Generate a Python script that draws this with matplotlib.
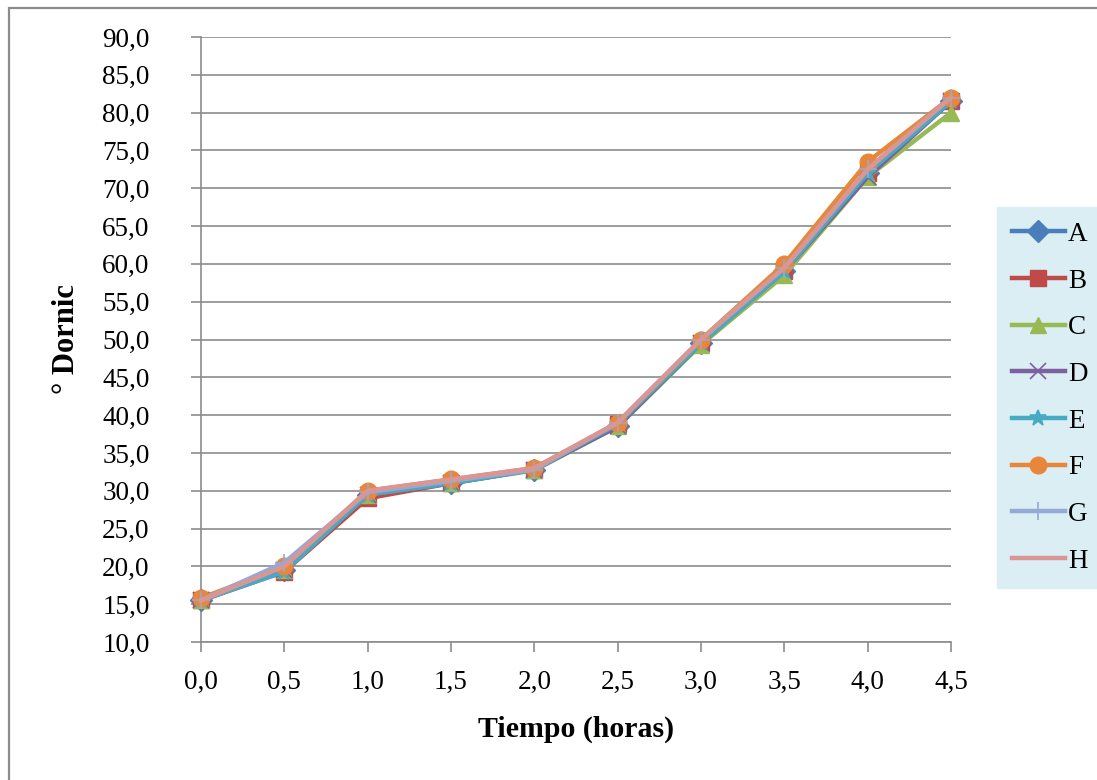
import matplotlib
matplotlib.use("Agg")
import matplotlib.pyplot as plt
from matplotlib.ticker import FuncFormatter, MultipleLocator
from matplotlib.patches import Rectangle

# Time in hours
tiempo = [0.0, 0.5, 1.0, 1.5, 2.0, 2.5, 3.0, 3.5, 4.0, 4.5]

# Acidity (°Dornic) per sample
serie_a = [15.5, 19.5, 29.5, 31.0, 32.8, 38.5, 49.5, 59.0, 72.0, 81.5]
serie_b = [15.5, 19.3, 29.0, 31.0, 32.8, 38.8, 49.5, 59.0, 72.0, 81.5]
serie_c = [15.5, 19.5, 29.5, 31.0, 32.7, 38.5, 49.3, 58.5, 71.5, 80.0]
serie_d = [15.5, 19.5, 29.5, 31.0, 32.8, 38.5, 49.5, 59.0, 71.5, 81.5]
serie_e = [15.5, 19.3, 29.5, 31.0, 32.8, 38.8, 49.5, 59.0, 72.0, 81.5]
serie_f = [15.8, 20.0, 30.0, 31.5, 33.0, 39.0, 50.0, 60.0, 73.5, 82.0]
serie_g = [15.5, 20.5, 29.8, 31.3, 32.8, 39.0, 50.0, 59.5, 72.5, 82.0]
serie_h = [15.5, 20.0, 30.0, 31.5, 33.0, 39.0, 50.0, 59.5, 72.5, 82.0]

nombres = ["A", "B", "C", "D", "E", "F", "G", "H"]
series = [serie_a, serie_b, serie_c, serie_d, serie_e, serie_f, serie_g, serie_h]
colores = ["#4A7EBB", "#BE4B48", "#98B954", "#7D60A0",
           "#46AAC5", "#E8873A", "#95A9D6", "#D99694"]
marcadores = ["D", "s", "^", "x", "*", "o", "+", None]
tam_marcador = [11, 11, 12, 11, 12, 12, 13, 0]

serif = ["Liberation Serif", "DejaVu Serif"]
plt.rcParams["font.family"] = serif

fig = plt.figure(figsize=(10.97, 7.80), dpi=100)
ax = fig.add_axes([201 / 1097, 1 - 642 / 780, 750 / 1097, 605 / 780])

for nombre, y, c, m, ms in zip(nombres, series, colores, marcadores, tam_marcador):
    kw = {}
    if m in ("x", "*", "+"):
        kw = dict(markeredgewidth=1.2)
    ax.plot(tiempo, y, color=c, lw=3.2, marker=m, markersize=ms,
            markerfacecolor=c, markeredgecolor=c, label=nombre,
            solid_joinstyle="round", clip_on=False, zorder=3, **kw)

ax.set_xlim(0, 4.5)
ax.set_ylim(10, 90)
ax.xaxis.set_major_locator(MultipleLocator(0.5))
ax.yaxis.set_major_locator(MultipleLocator(5))
fmt = FuncFormatter(lambda v, p: f"{v:.1f}".replace(".", ","))
ax.xaxis.set_major_formatter(fmt)
ax.yaxis.set_major_formatter(fmt)

ax.grid(axis="y", color="#8C8C8C", lw=1.2, zorder=0)
for s in ["top", "right"]:
    ax.spines[s].set_visible(False)
for s in ["left", "bottom"]:
    ax.spines[s].set_color("#8C8C8C")
    ax.spines[s].set_linewidth(1.2)

ax.tick_params(axis="y", direction="out", length=7, width=1.2, color="#8C8C8C",
               labelsize=19.5, pad=30)
ax.tick_params(axis="x", direction="out", length=7, width=1.2, color="#8C8C8C",
               labelsize=19.5, pad=13)

ax.set_xlabel("Tiempo (horas)", fontsize=21.5, fontweight="bold", labelpad=15)
ax.set_ylabel("° Dornic", fontsize=22, fontweight="bold", labelpad=15)

leg = ax.legend(loc="upper left", bbox_to_anchor=(997 / 1097, 1 - 207 / 780),
                bbox_transform=fig.transFigure, frameon=True, fontsize=19.5,
                handlelength=1.95, handletextpad=0.12, labelspacing=0.8,
                borderpad=0.55, borderaxespad=0, fancybox=False)
leg.get_frame().set_facecolor("#DAEEF3")
leg.get_frame().set_edgecolor("#DAEEF3")
leg.get_frame().set_alpha(1)

# Chart area border
fig.patches.append(Rectangle((9 / 1097, -0.01), 1.02, 1 - 8 / 780 + 0.01,
                             transform=fig.transFigure, fill=False,
                             edgecolor="#8C8C8C", lw=1.6))

fig.savefig("out.png", dpi=100)
